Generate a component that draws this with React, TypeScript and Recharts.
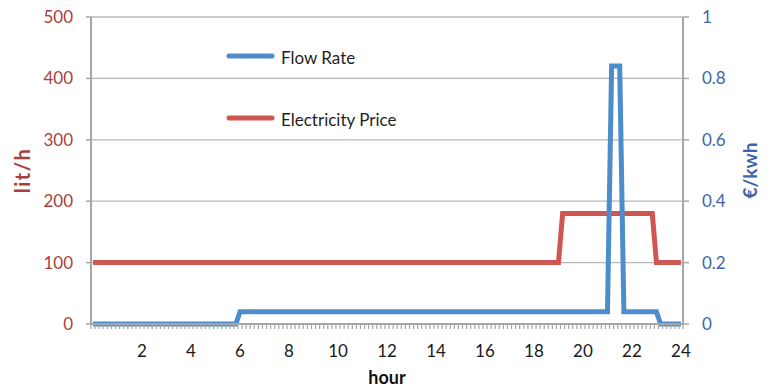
import React from "react";
import {
  LineChart,
  Line,
  XAxis,
  YAxis,
  CartesianGrid,
  Legend,
  Label,
} from "recharts";

// flow rate (lit/h), read at each change of level
const flowHours = [0, 5.83, 6, 21, 21.17, 21.5, 21.67, 23, 23.17, 24];
const flowValues = [0, 0, 20, 20, 420, 420, 20, 20, 0, 0];

// electricity price (€/kwh)
const priceHours = [0, 19, 19.17, 22.83, 23, 24];
const priceValues = [0.2, 0.2, 0.36, 0.36, 0.2, 0.2];

const flowTicks = [0, 100, 200, 300, 400, 500];
const priceTicks = [0, 0.2, 0.4, 0.6, 0.8, 1];
const hourLabels = [2, 4, 6, 8, 10, 12, 14, 16, 18, 20, 22, 24];
// one category every 10 minutes, like the original sheet
const slotTicks = Array.from({ length: 145 }, (_, i) => i / 6);

const flowData = flowHours.map((h, i) => ({ hour: h, flow: flowValues[i] }));
const priceData = priceHours.map((h, i) => ({ hour: h, price: priceValues[i] }));

const BLUE = "#4d8dcc";
const RED = "#cf5651";
const AXIS = "#a6a6a6";
const GRID = "#b8b8b8";
const FONT = "Lato, 'DejaVu Sans', sans-serif";

const W = 770;
const H = 388;
const PLOT_LEFT = 91;
const PLOT_RIGHT = 683;
const HALF_SLOT = (PLOT_RIGHT - PLOT_LEFT) / 145 / 2;

const HourTick = (props: any) => {
  const { x, y, payload } = props;
  const k = Math.round(payload.value * 6);
  const label = k > 0 && k % 12 === 0 && hourLabels.includes(k / 6);
  return (
    <g>
      <line x1={x - HALF_SLOT} x2={x - HALF_SLOT} y1={y - 5} y2={y} stroke={AXIS} strokeWidth={1.2} />
      {k === 144 && (
        <line x1={x + HALF_SLOT} x2={x + HALF_SLOT} y1={y - 5} y2={y} stroke={AXIS} strokeWidth={1.2} />
      )}
      {label && (
        <text x={x} y={y + 28} textAnchor="middle" fill="#1a1a1a" fontSize={17} fontFamily={FONT}>
          {k / 6}
        </text>
      )}
    </g>
  );
};

const VLabel = ({ viewBox, text, color, dx, size = 19, spacing = 0 }: any) => {
  const cx = viewBox.x + dx;
  const cy = viewBox.y + viewBox.height / 2;
  return (
    <text
      transform={`translate(${cx},${cy}) rotate(-90)`}
      textAnchor="middle"
      dominantBaseline="central"
      fill={color}
      fontSize={size}
      fontWeight="bold"
      letterSpacing={spacing}
      fontFamily={FONT}
    >
      {text}
    </text>
  );
};

const order = ["Flow Rate", "Electricity Price"];

const LegendBox = (props: any) => {
  const items = [...(props.payload || [])].sort(
    (a: any, b: any) => order.indexOf(a.value) - order.indexOf(b.value)
  );
  return (
    <svg width={220} height={90} style={{ overflow: "visible" }}>
      {items.map((it: any, i: number) => (
        <g key={it.value} transform={`translate(0,${i * 62})`}>
          <line x1={3} x2={46} y1={12} y2={12} stroke={it.color} strokeWidth={5} strokeLinecap="round" />
          <text x={55} y={20} fill="#1f1f1f" fontSize={17} fontFamily={FONT}>
            {it.value}
          </text>
        </g>
      ))}
    </svg>
  );
};

export default function App() {
  return (
    <div style={{ position: "absolute", left: 0, top: 0, width: W, height: H, background: "#fff" }}>
      <LineChart width={W} height={H} margin={{ top: 17, right: 0, bottom: 0, left: 0 }}>
        <CartesianGrid yAxisId="left" vertical={false} stroke={GRID} strokeWidth={1.3} />
        <XAxis
          dataKey="hour"
          type="number"
          domain={[-1 / 12, 24 + 1 / 12]}
          ticks={slotTicks}
          interval={0}
          height={64}
          tickLine={false}
          tickSize={5}
          tickMargin={0}
          axisLine={{ stroke: AXIS, strokeWidth: 2 }}
          tick={<HourTick />}
          allowDataOverflow
        >
          <Label
            content={(p: any) => (
              <text
                x={p.viewBox.x + p.viewBox.width / 2}
                y={p.viewBox.y + 60}
                textAnchor="middle"
                fill="#111"
                fontSize={18}
                fontWeight="bold"
                fontFamily={FONT}
              >
                hour
              </text>
            )}
          />
        </XAxis>
        <YAxis
          yAxisId="left"
          orientation="left"
          width={PLOT_LEFT}
          domain={[0, 500]}
          ticks={flowTicks}
          interval={0}
          tickSize={5}
          tickMargin={13}
          axisLine={{ stroke: AXIS, strokeWidth: 2 }}
          tickLine={{ stroke: AXIS, strokeWidth: 1.5 }}
          tick={{ fill: "#a83f3e", fontSize: 17, fontFamily: FONT }}
        >
          <Label
            content={(p: any) => (
              <VLabel viewBox={p.viewBox} text="lit/h" color="#a83f3e" dx={22} size={20} spacing={1.5} />
            )}
          />
        </YAxis>
        <YAxis
          yAxisId="right"
          orientation="right"
          width={W - PLOT_RIGHT}
          domain={[0, 1]}
          ticks={priceTicks}
          interval={0}
          tickSize={6}
          tickMargin={13}
          axisLine={{ stroke: AXIS, strokeWidth: 2 }}
          tickLine={{ stroke: AXIS, strokeWidth: 1.5 }}
          tick={{ fill: "#3d66a8", fontSize: 17, fontFamily: FONT }}
        >
          <Label content={(p: any) => <VLabel viewBox={p.viewBox} text="€/kwh" color="#3d66a8" dx={66} />} />
        </YAxis>
        <Legend
          content={<LegendBox />}
          wrapperStyle={{ position: "absolute", left: 226, top: 44, width: 0, height: 0, overflow: "visible" }}
        />
        <Line
          yAxisId="right"
          data={priceData}
          dataKey="price"
          name="Electricity Price"
          type="linear"
          stroke={RED}
          strokeWidth={5}
          dot={false}
          activeDot={false}
          isAnimationActive={false}
        />
        <Line
          yAxisId="left"
          data={flowData}
          dataKey="flow"
          name="Flow Rate"
          type="linear"
          stroke={BLUE}
          strokeWidth={5}
          dot={false}
          activeDot={false}
          isAnimationActive={false}
        />
      </LineChart>
    </div>
  );
}
